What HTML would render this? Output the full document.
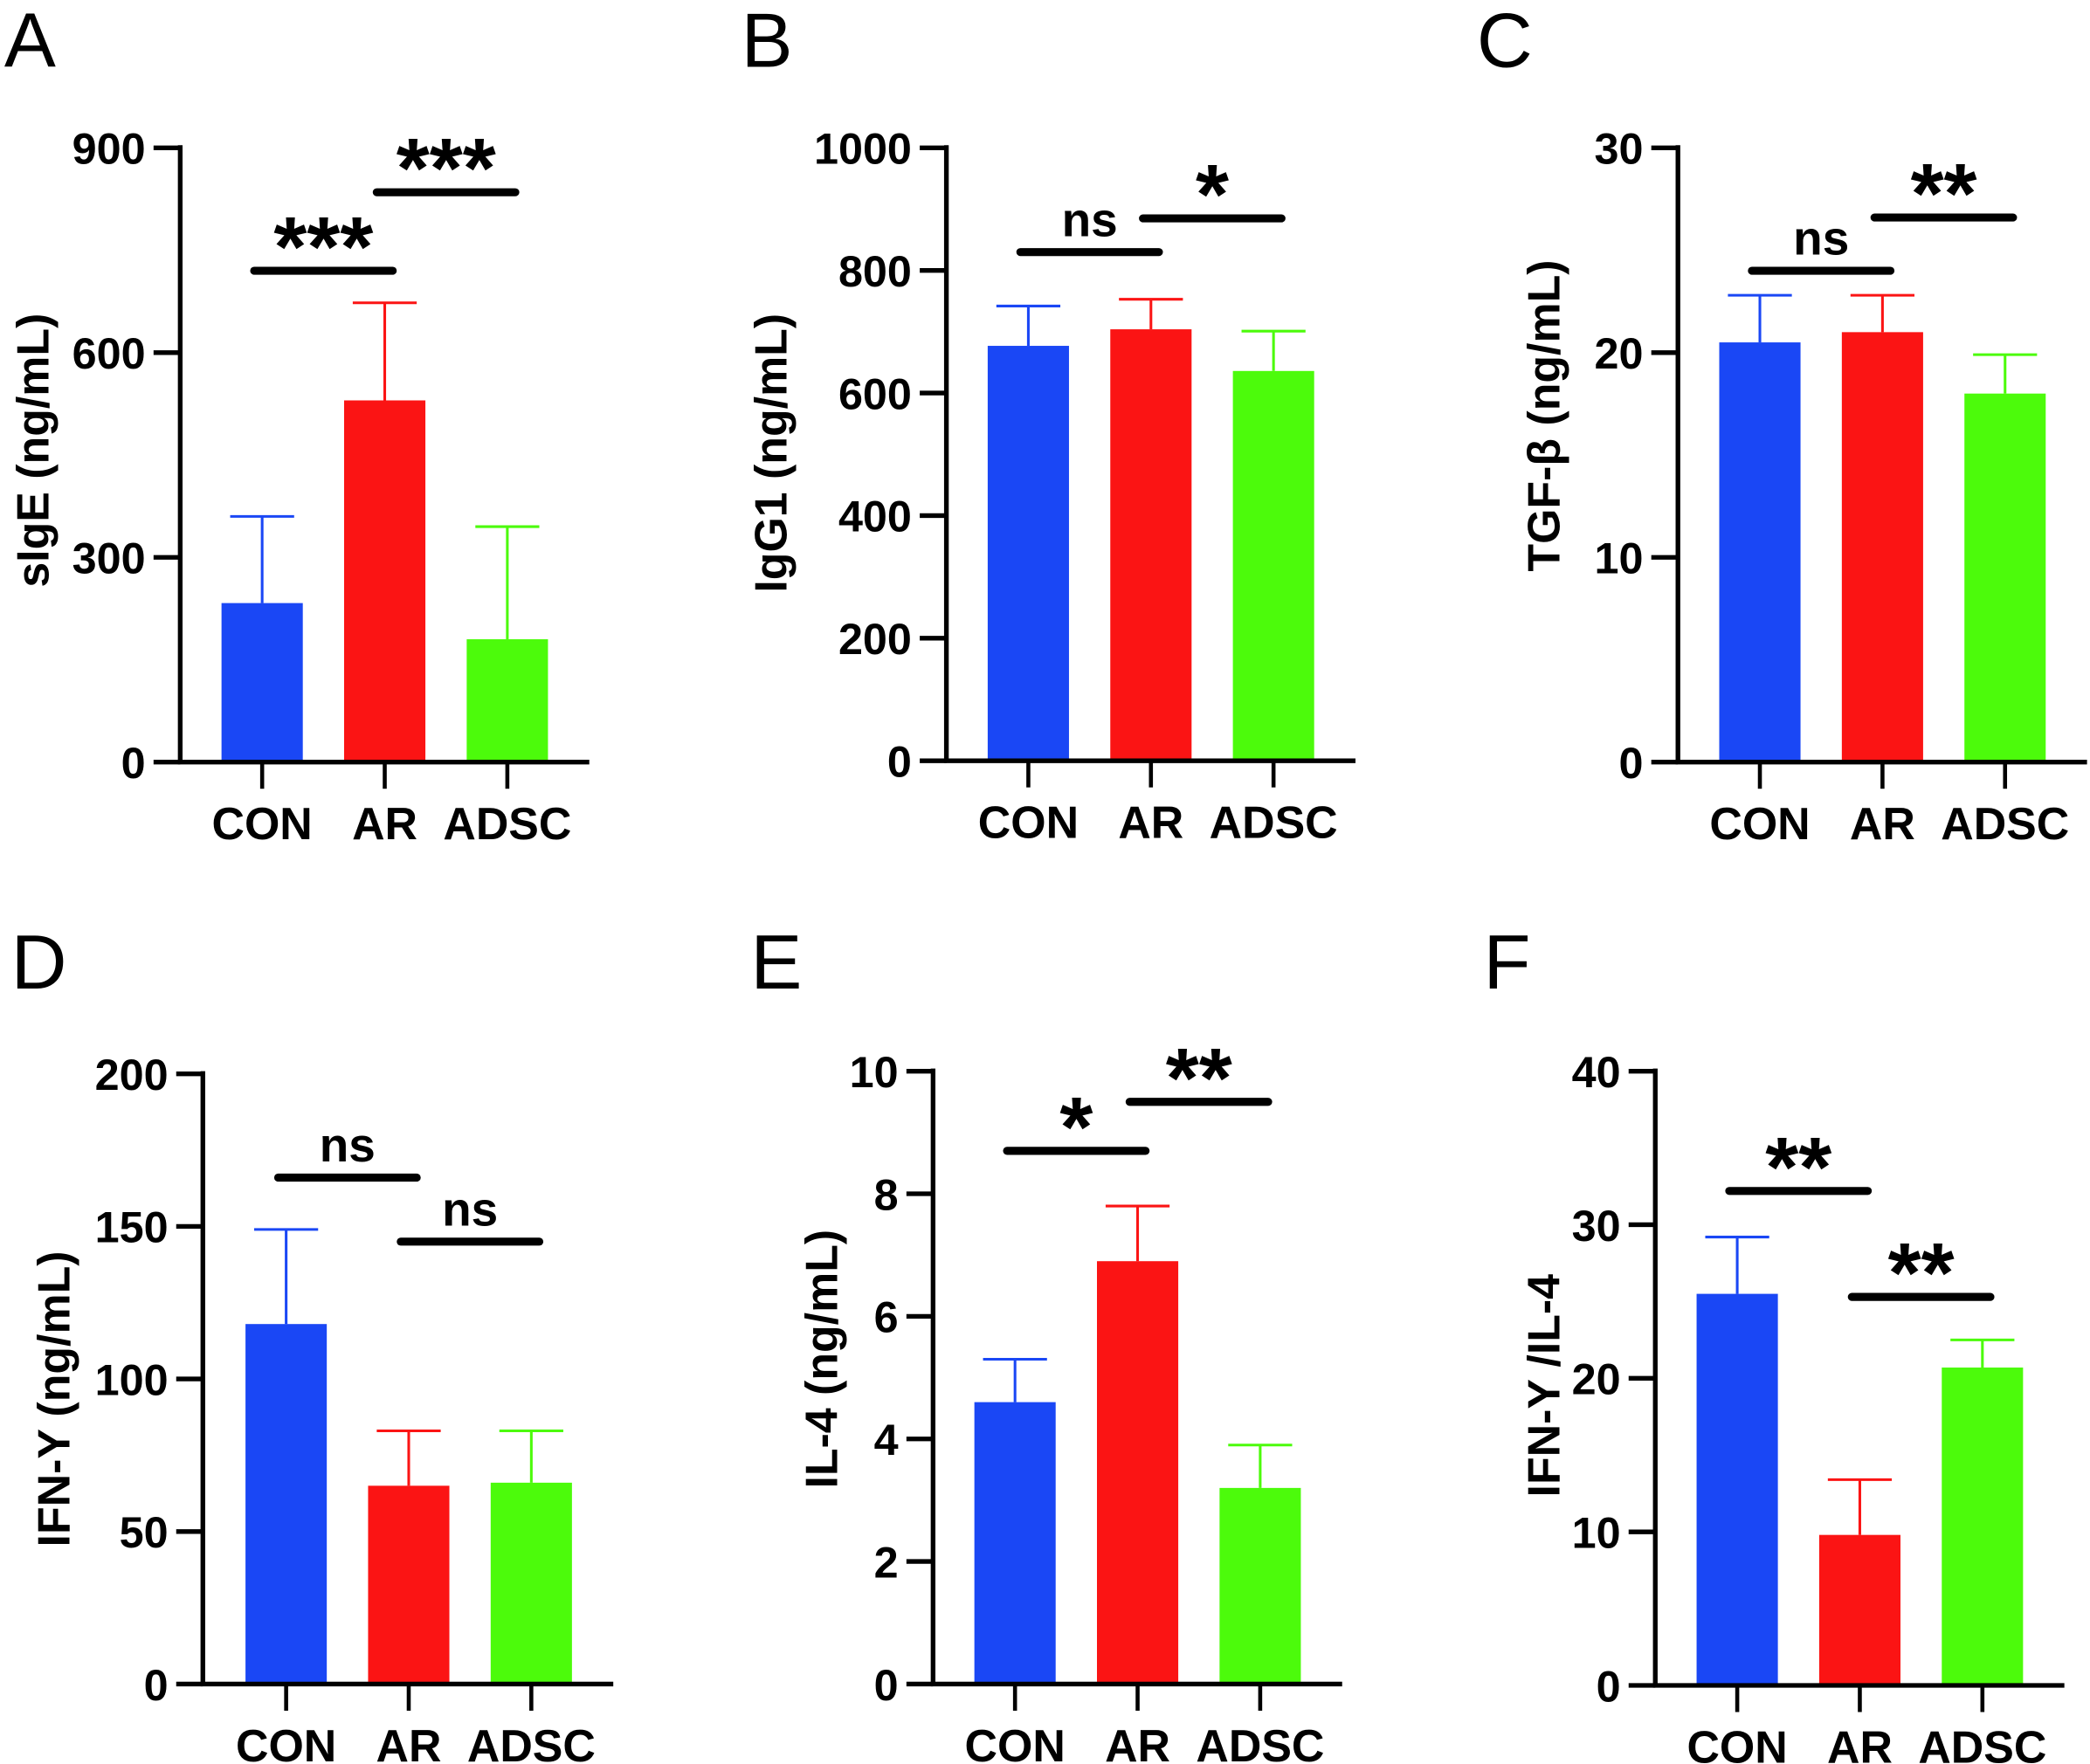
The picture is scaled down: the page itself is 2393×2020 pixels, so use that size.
<!DOCTYPE html>
<html><head><meta charset="utf-8"><style>
html,body{margin:0;padding:0;background:#fff}
svg{display:block}
text{font-family:"Liberation Sans",sans-serif;font-weight:bold;fill:#000}
</style></head><body>
<svg id="fig" width="2393" height="2020" viewBox="0 0 1568 1324" xmlns="http://www.w3.org/2000/svg"></svg>
<script>
const categories = ["CON","AR","ADSC"];
const colors = ["#1a47f5","#fb1414","#4cfb0b"];
const panelLetters = ["A","B","C","D","E","F"];
const yTitles = ["sIgE (ng/mL)","IgG1 (ng/mL)","TGF-β (ng/mL)","IFN-Y (ng/mL)","IL-4  (ng/mL)","IFN-Y /IL-4"];
const yMaxes = [900,1000,30,200,10,40];
const yTicks = [[0,300,600,900],[0,200,400,600,800,1000],[0,10,20,30],[0,50,100,150,200],[0,2,4,6,8,10],[0,10,20,30,40]];
const meansA=[233,530,180], errA=[360,673,345];
const meansB=[677,704,636], errB=[742,753,701];
const meansC=[20.5,21.0,18.0], errC=[22.8,22.8,19.9];
const meansD=[118,65,66], errD=[149,83,83];
const meansE=[4.6,6.9,3.2], errE=[5.3,7.8,3.9];
const meansF=[25.5,9.8,20.7], errF=[29.2,13.4,22.5];
const means=[meansA,meansB,meansC,meansD,meansE,meansF];
const errs=[errA,errB,errC,errD,errE,errF];
const sigs=[
 [[0,1,"***",720],[1,2,"***",835]],
 [[0,1,"ns",830],[1,2,"*",885]],
 [[0,1,"ns",24],[1,2,"**",26.6]],
 [[0,1,"ns",166],[1,2,"ns",145]],
 [[0,1,"*",8.7],[1,2,"**",9.5]],
 [[0,1,"**",32.2],[1,2,"**",25.3]]
];
const layout=[
 {ax:135,top:111,bot:572,letter:[3,50],tx:36,ty:338,first:166},
 {ax:710,top:111,bot:571,letter:[556,50],tx:590,ty:340,first:741},
 {ax:1259,top:111,bot:572,letter:[1108,50],tx:1170,ty:312,first:1290},
 {ax:152,top:806,bot:1264,letter:[8,742],tx:52,ty:1050,first:184},
 {ax:700,top:804,bot:1264,letter:[563,742],tx:628,ty:1020,first:731},
 {ax:1242,top:804,bot:1265,letter:[1113,742],tx:1170,ty:1040,first:1273}
];
const NS="http://www.w3.org/2000/svg";
const svg=document.getElementById('fig');
function mk(tag,attrs,parent){const e=document.createElementNS(NS,tag);for(const k in attrs)e.setAttribute(k,attrs[k]);(parent||svg).appendChild(e);return e;}
const BW=61, STEP=92;
layout.forEach((L,p)=>{
  const g=mk('g',{});
  
  
  const yS=v=>L.bot-(v/yMaxes[p])*(L.bot-L.top);
  const xC=i=>L.first+BW/2+i*STEP;
  const axEnd=L.first+2*STEP+BW+31;
  let t=mk('text',{x:L.letter[0],y:L.letter[1],'font-size':58,style:'font-weight:normal'},g);t.textContent=panelLetters[p];
  
  
  categories.forEach((c,i)=>{
    const r=mk('rect',{x:xC(i)-BW/2,y:yS(means[p][i]),width:BW,height:L.bot-yS(means[p][i]),fill:colors[i]},g);
    
    
    const e=mk('path',{d:`M${xC(i)},${yS(means[p][i])}V${yS(errs[p][i])}M${xC(i)-24},${yS(errs[p][i])}H${xC(i)+24}`,stroke:colors[i],'stroke-width':2,fill:'none'},g);
    
    
    const tk=mk('line',{x1:xC(i),x2:xC(i),y1:L.bot,y2:L.bot+20,stroke:'#000','stroke-width':3},g);
    
    
    const lb=mk('text',{x:xC(i),y:L.bot+58,'font-size':34,'text-anchor':'middle'},g);lb.textContent=c;
    
    
  });
  const a=mk('path',{d:`M${L.ax},${L.top-2}V${L.bot}H${axEnd}`,stroke:'#000','stroke-width':3.5,fill:'none'},g);
  
  
  yTicks[p].forEach(v=>{
    const l=mk('line',{x1:L.ax-20,x2:L.ax,y1:yS(v),y2:yS(v),stroke:'#000','stroke-width':3.5},g);
    
    
    const tt=mk('text',{x:L.ax-26,y:yS(v)+12,'font-size':33,'text-anchor':'end'},g);tt.textContent=v;
    
    
  });
  const yt=mk('text',{x:L.tx,y:L.ty,'font-size':34,'text-anchor':'middle',transform:`rotate(-90 ${L.tx} ${L.ty})`},g);yt.textContent=yTitles[p];
  
  
  sigs[p].forEach(s=>{
    const y=yS(s[3]);
    const x1=xC(s[0])-6, x2=xC(s[1])+6;
    const ln=mk('line',{x1:x1,x2:x2,y1:y,y2:y,stroke:'#000','stroke-width':6,'stroke-linecap':'round'},g);
    
    
    const star=s[2].includes('*');
    const st=mk('text',{x:(x1+x2)/2,y:star?y+4:y-12,'font-size':star?64:36,'text-anchor':'middle'},g);st.textContent=s[2];
    
    
  });
});
</script>
</body></html>
